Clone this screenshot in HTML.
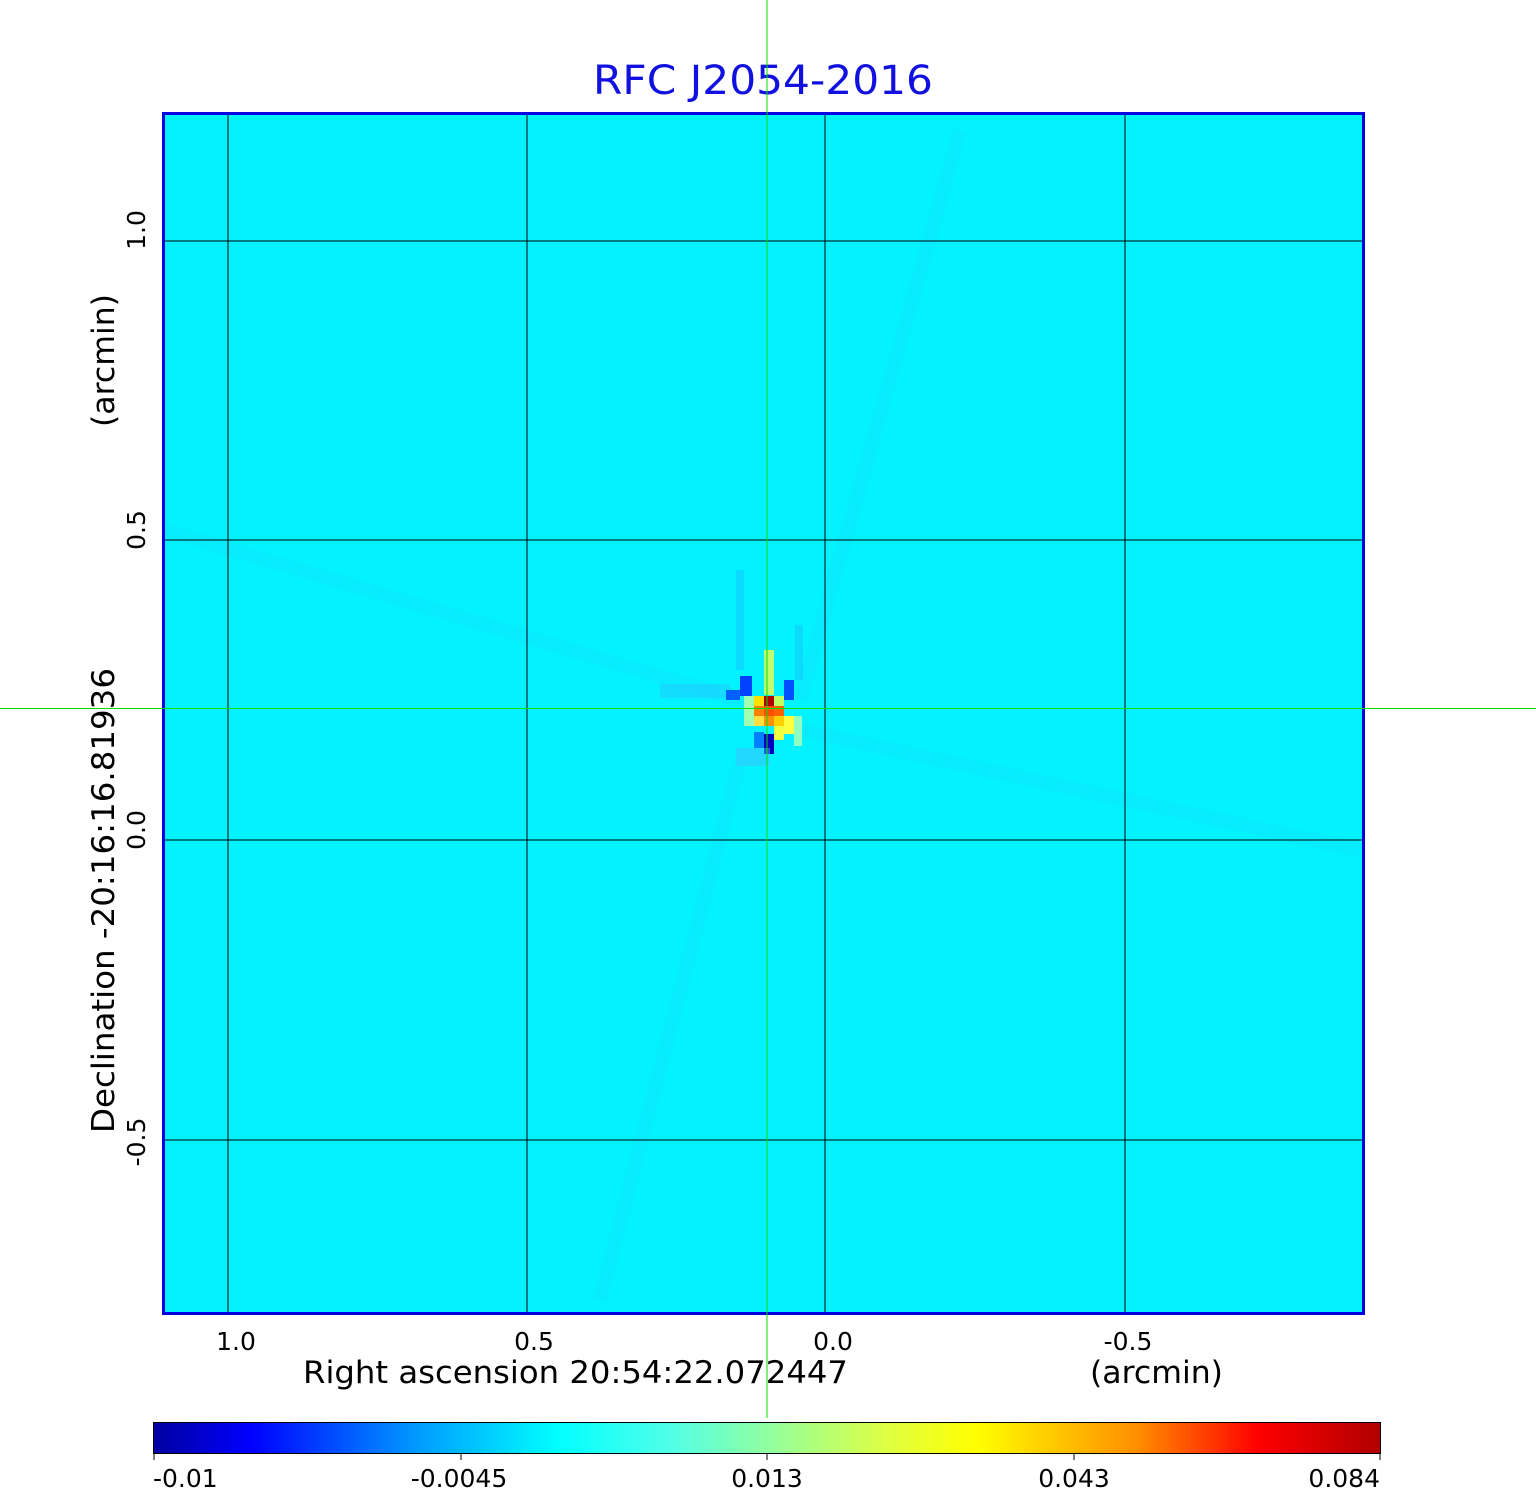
<!DOCTYPE html>
<html><head><meta charset="utf-8"><style>
html,body{margin:0;padding:0;background:#fff;}
svg{display:block;}
text{font-family:"DejaVu Sans","Liberation Sans",sans-serif;}
</style></head><body>
<svg width="1536" height="1511" viewBox="0 0 1536 1511" xmlns="http://www.w3.org/2000/svg">
<defs>
<linearGradient id="jet" x1="0" x2="1" y1="0" y2="0">
<stop offset="0" stop-color="#0000a0"/>
<stop offset="0.08" stop-color="#0000ff"/>
<stop offset="0.22" stop-color="#00a0ff"/>
<stop offset="0.33" stop-color="#00ffff"/>
<stop offset="0.42" stop-color="#50ffe8"/>
<stop offset="0.5" stop-color="#90ffa0"/>
<stop offset="0.6" stop-color="#e0ff40"/>
<stop offset="0.67" stop-color="#ffff00"/>
<stop offset="0.8" stop-color="#ff9000"/>
<stop offset="0.9" stop-color="#ff0000"/>
<stop offset="1" stop-color="#b00000"/>
</linearGradient>
</defs>
<text x="763" y="94" font-size="40" fill="#1010e0" text-anchor="middle" textLength="340" lengthAdjust="spacingAndGlyphs">RFC J2054-2016</text>
<rect x="163.5" y="113.5" width="1200" height="1200" fill="#03f2ff"/>
<!-- faint streaks -->
<g stroke="#20c8ff" stroke-opacity="0.15" stroke-width="14" fill="none">
<line x1="165" y1="530" x2="740" y2="700"/>
<line x1="600" y1="1300" x2="740" y2="760"/>
<line x1="800" y1="700" x2="960" y2="130"/>
<line x1="800" y1="730" x2="1360" y2="850"/>
</g>
<!-- source -->
<rect x="736" y="570" width="8" height="100" fill="#20b0ff" opacity="0.35"/>
<rect x="795" y="625" width="8" height="55" fill="#20b0ff" opacity="0.35"/>
<rect x="660" y="684" width="70" height="14" fill="#30b8ff" opacity="0.35"/>
<rect x="764" y="650" width="10" height="45" fill="#c0ff70"/>
<rect x="740" y="676" width="12" height="20" fill="#0040ff"/>
<rect x="726" y="690" width="14" height="10" fill="#0060ff"/>
<rect x="784" y="680" width="10" height="20" fill="#0050ff"/>
<rect x="744" y="696" width="10" height="30" fill="#a0ffb0"/>
<rect x="754" y="696" width="10" height="10" fill="#ffe000"/>
<rect x="764" y="696" width="10" height="10" fill="#b00000"/>
<rect x="774" y="696" width="10" height="10" fill="#c0ff60"/>
<rect x="754" y="706" width="10" height="10" fill="#ff8000"/>
<rect x="764" y="706" width="10" height="10" fill="#ff5000"/>
<rect x="774" y="706" width="10" height="10" fill="#ff6000"/>
<rect x="754" y="716" width="10" height="10" fill="#ffe040"/>
<rect x="764" y="716" width="10" height="10" fill="#ff9000"/>
<rect x="774" y="716" width="10" height="10" fill="#ffd000"/>
<rect x="784" y="716" width="10" height="18" fill="#ffff40"/>
<rect x="774" y="726" width="10" height="14" fill="#f0ff40"/>
<rect x="794" y="716" width="8" height="30" fill="#90ffc0"/>
<rect x="754" y="732" width="10" height="16" fill="#0080ff"/>
<rect x="764" y="734" width="10" height="20" fill="#0000c0"/>
<rect x="736" y="748" width="34" height="18" fill="#40c0ff" opacity="0.5"/>
<!-- grid -->
<g stroke="#000" stroke-width="1">
<line x1="228" y1="114" x2="228" y2="1313"/>
<line x1="527" y1="114" x2="527" y2="1313"/>
<line x1="825" y1="114" x2="825" y2="1313"/>
<line x1="1125" y1="114" x2="1125" y2="1313"/>
<line x1="164" y1="241" x2="1363" y2="241"/>
<line x1="164" y1="540" x2="1363" y2="540"/>
<line x1="164" y1="840" x2="1363" y2="840"/>
<line x1="164" y1="1140" x2="1363" y2="1140"/>
</g>
<rect x="163.5" y="113.5" width="1200" height="1200" fill="none" stroke="#0000e0" stroke-width="3"/>
<!-- crosshair -->
<line x1="767" y1="0" x2="767" y2="1418" stroke="#00e000" stroke-width="1"/>
<line x1="0" y1="708.5" x2="1536" y2="708.5" stroke="#00e000" stroke-width="1"/>
<!-- x ticks -->
<g font-size="25" fill="#000" text-anchor="middle">
<text x="236" y="1350">1.0</text>
<text x="534" y="1350">0.5</text>
<text x="833" y="1350">0.0</text>
<text x="1128" y="1350">-0.5</text>
</g>
<text x="303" y="1383" font-size="31" textLength="545" lengthAdjust="spacingAndGlyphs">Right ascension  20:54:22.072447</text>
<text x="1090" y="1383" font-size="31" textLength="133" lengthAdjust="spacingAndGlyphs">(arcmin)</text>
<!-- y ticks -->
<g font-size="25" fill="#000" text-anchor="middle">
<text transform="translate(145,230) rotate(-90)">1.0</text>
<text transform="translate(145,530) rotate(-90)">0.5</text>
<text transform="translate(145,830) rotate(-90)">0.0</text>
<text transform="translate(145,1142) rotate(-90)">-0.5</text>
</g>
<text transform="translate(114,1133) rotate(-90)" font-size="31" textLength="465" lengthAdjust="spacingAndGlyphs">Declination  -20:16:16.81936</text>
<text transform="translate(114,427) rotate(-90)" font-size="31" textLength="133" lengthAdjust="spacingAndGlyphs">(arcmin)</text>
<!-- colorbar -->
<rect x="153.5" y="1422.5" width="1227" height="31" fill="url(#jet)" stroke="#000" stroke-width="1"/>
<g stroke="#000" stroke-width="1">
<line x1="154" y1="1454" x2="154" y2="1460"/>
<line x1="461" y1="1454" x2="461" y2="1460"/>
<line x1="767" y1="1454" x2="767" y2="1460"/>
<line x1="1074" y1="1454" x2="1074" y2="1460"/>
<line x1="1380" y1="1454" x2="1380" y2="1460"/>
</g>
<g font-size="25" fill="#000">
<text x="153" y="1487">-0.01</text>
<text x="459" y="1487" text-anchor="middle">-0.0045</text>
<text x="767" y="1487" text-anchor="middle">0.013</text>
<text x="1074" y="1487" text-anchor="middle">0.043</text>
<text x="1380" y="1487" text-anchor="end">0.084</text>
</g>
</svg>
</body></html>
